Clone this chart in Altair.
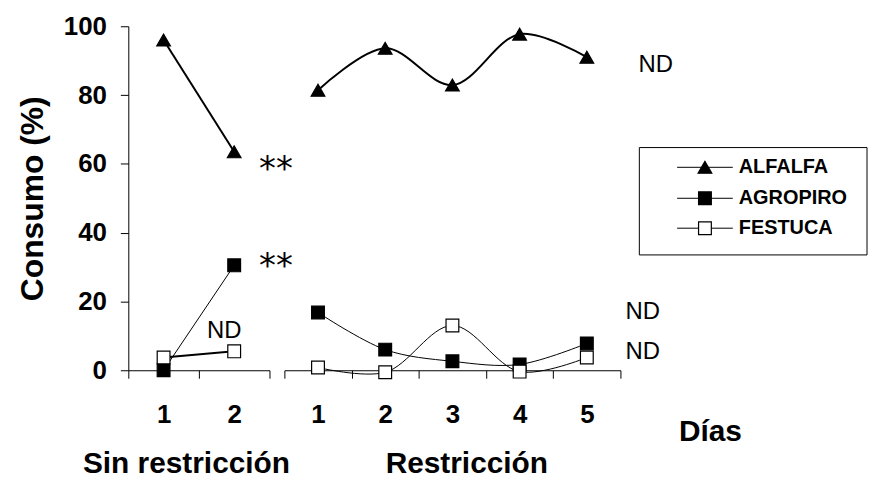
import altair as alt
import pandas as pd

FONT = "Liberation Sans"

series = ["ALFALFA", "AGROPIRO", "FESTUCA"]

days_left = ["1", "2"]
alfalfa_left = [96.0, 63.5]
agropiro_left = [0.0, 30.5]
festuca_left = [3.7, 5.5]

days_right = ["1", "2", "3", "4", "5"]
alfalfa_right = [81.4, 93.6, 82.9, 97.7, 91.0]
agropiro_right = [16.8, 6.0, 2.6, 1.7, 7.8]
festuca_right = [0.8, -0.6, 13.0, -0.4, 3.7]

y_ticks = [0, 20, 40, 60, 80, 100]

# annotation anchors (in Consumo units)
star_levels = [60.1, 32.1]
nd_left_level = [11.3]
nd_right_top = [88.7]
nd_right_low = [16.8, 5.2]
legend_levels = [59.0, 50.0, 41.3]


def to_long(days, a, b, c):
    rows = []
    for name, vals in zip(series, [a, b, c]):
        for d, v in zip(days, vals):
            rows.append({"dia": d, "serie": name, "consumo": v})
    return pd.DataFrame(rows)


left_df = to_long(days_left, alfalfa_left, agropiro_left, festuca_left)
right_df = to_long(days_right, alfalfa_right, agropiro_right, festuca_right)

shape_scale = alt.Scale(type="ordinal", domain=series, range=["triangle-up", "square", "square"])
fill_scale = alt.Scale(type="ordinal", domain=series, range=["black", "black", "white"])
size_scale = alt.Scale(type="ordinal", domain=series, range=[190, 165, 165])


def yscale():
    return alt.Scale(domain=[0, 100], nice=False, zero=False)


left_y_axis = alt.Axis(
    values=y_ticks,
    title="Consumo (%)",
    titleFont=FONT,
    titleFontSize=32,
    titleFontWeight="bold",
    titleColor="black",
    titlePadding=14,
    labelFont=FONT,
    labelFontSize=26,
    labelFontWeight="bold",
    labelColor="black",
    labelPadding=14,
    tickSize=8,
    tickColor="black",
    domainColor="black",
    grid=False,
)


def y_enc(field, panel):
    if panel == "left":
        return alt.Y(field, scale=yscale(), axis=left_y_axis, title="Consumo (%)")
    return alt.Y(field, scale=yscale(), axis=None)


def x_enc(days, title, title_x):
    return alt.X(
        "dia:O",
        sort=days,
        scale=alt.Scale(type="band", domain=days, paddingInner=0, paddingOuter=0),
        title=title,
        axis=alt.Axis(
            title=title,
            titleX=title_x,
            titleY=103,
            titleAlign="center",
            titleBaseline="alphabetic",
            titleFont=FONT,
            titleFontSize=30,
            titleFontWeight="bold",
            titleColor="black",
            labelFont=FONT,
            labelFontSize=26,
            labelFontWeight="bold",
            labelColor="black",
            labelPadding=24,
            labelAngle=0,
            tickBand="extent",
            tickSize=8,
            tickColor="black",
            domainColor="black",
            grid=False,
        ),
    )


def lines(df, days, title, title_x, panel, widths, interp):
    return alt.Chart(df).mark_line(color="black", interpolate=interp).encode(
        x=x_enc(days, title, title_x),
        y=y_enc("consumo:Q", panel),
        strokeWidth=alt.StrokeWidth(
            "serie:N", scale=alt.Scale(type="ordinal", domain=series, range=widths), legend=None
        ),
        detail="serie:N",
    )


def points(df, days, title, title_x, panel):
    return alt.Chart(df).mark_point(filled=True, stroke="black", strokeWidth=1.2, opacity=1).encode(
        x=x_enc(days, title, title_x),
        y=y_enc("consumo:Q", panel),
        shape=alt.Shape("serie:N", scale=shape_scale, legend=None),
        fill=alt.Fill("serie:N", scale=fill_scale, legend=None),
        size=alt.Size("serie:N", scale=size_scale, legend=None),
    )


def label_layer(df, days, title, title_x, panel, **kw):
    return alt.Chart(df).mark_text(color="black", baseline="middle", **kw).encode(
        x=x_enc(days, title, title_x),
        y=y_enc("consumo:Q", panel),
        text="t:N",
    )


# ---------- left panel ----------
LT, LX = "Sin restricción", 58
left_lines = lines(left_df, days_left, LT, LX, "left", [2, 1, 2], "linear")
left_points = points(left_df, days_left, LT, LX, "left")

stars_df = pd.DataFrame({"dia": ["2"] * len(star_levels), "consumo": star_levels, "t": ["**"] * len(star_levels)})
left_stars = label_layer(stars_df, days_left, LT, LX, "left",
                         font="DejaVu Sans", fontSize=34, dx=42, dy=7, align="center")
ndl_df = pd.DataFrame({"dia": ["2"], "consumo": nd_left_level, "t": ["ND"]})
left_nd = label_layer(ndl_df, days_left, LT, LX, "left", font=FONT, fontSize=24, dx=-10, align="center")

left = alt.layer(left_lines, left_points, left_stars, left_nd).properties(width=142, height=346)

# ---------- right panel ----------
RT, RX = "Restricción", 183
right_lines = lines(right_df, days_right, RT, RX, "right", [2, 1, 1], "catmull-rom")
right_points = points(right_df, days_right, RT, RX, "right")

ndt_df = pd.DataFrame({"dia": ["5"], "consumo": nd_right_top, "t": ["ND"]})
right_nd_top = label_layer(ndt_df, days_right, RT, RX, "right", font=FONT, fontSize=24, dx=52, align="left")
ndr_df = pd.DataFrame({"dia": ["5"] * len(nd_right_low), "consumo": nd_right_low, "t": ["ND"] * len(nd_right_low)})
right_nd_low = label_layer(ndr_df, days_right, RT, RX, "right", font=FONT, fontSize=24, dx=39, align="left")

# legend (drawn in the chart)
leg_df = pd.DataFrame({"serie": series, "ly": legend_levels})
one = pd.DataFrame({"k": [0]})
legend_box = alt.Chart(one).mark_rect(fillOpacity=0, stroke="black", strokeWidth=1).encode(
    x=alt.value(357), x2=alt.value(586), y=alt.value(122), y2=alt.value(230)
)
legend_lines = alt.Chart(leg_df).mark_rule(color="black", strokeWidth=1).encode(
    x=alt.value(395), x2=alt.value(451), y=alt.Y("ly:Q", scale=yscale(), axis=None)
)
legend_points = alt.Chart(leg_df).mark_point(filled=True, stroke="black", strokeWidth=1.2, opacity=1).encode(
    x=alt.value(423),
    y=alt.Y("ly:Q", scale=yscale(), axis=None),
    shape=alt.Shape("serie:N", scale=shape_scale, legend=None),
    fill=alt.Fill("serie:N", scale=fill_scale, legend=None),
    size=alt.Size("serie:N", scale=size_scale, legend=None),
)
legend_text = alt.Chart(leg_df).mark_text(
    font=FONT, fontSize=20, fontWeight="bold", color="black", align="left", baseline="middle"
).encode(
    x=alt.value(457),
    y=alt.Y("ly:Q", scale=yscale(), axis=None),
    text="serie:N",
)
dias = alt.Chart(pd.DataFrame({"t": ["Días"]})).mark_text(
    font=FONT, fontSize=30, fontWeight="bold", color="black", align="center", baseline="alphabetic"
).encode(x=alt.value(428.5), y=alt.value(417), text="t:N")

right = alt.layer(
    right_lines, right_points, right_nd_top, right_nd_low,
    legend_box, legend_lines, legend_points, legend_text, dias,
).properties(width=338, height=346)

chart = alt.hconcat(left, right, spacing=15, bounds="flush").resolve_scale(
    strokeWidth="independent"
).properties(
    padding={"left": 8, "top": 4, "right": 0, "bottom": 0},
    background="white",
).configure_view(stroke=None)

chart.save("out.html", embed_options={"renderer": "svg", "actions": False})
